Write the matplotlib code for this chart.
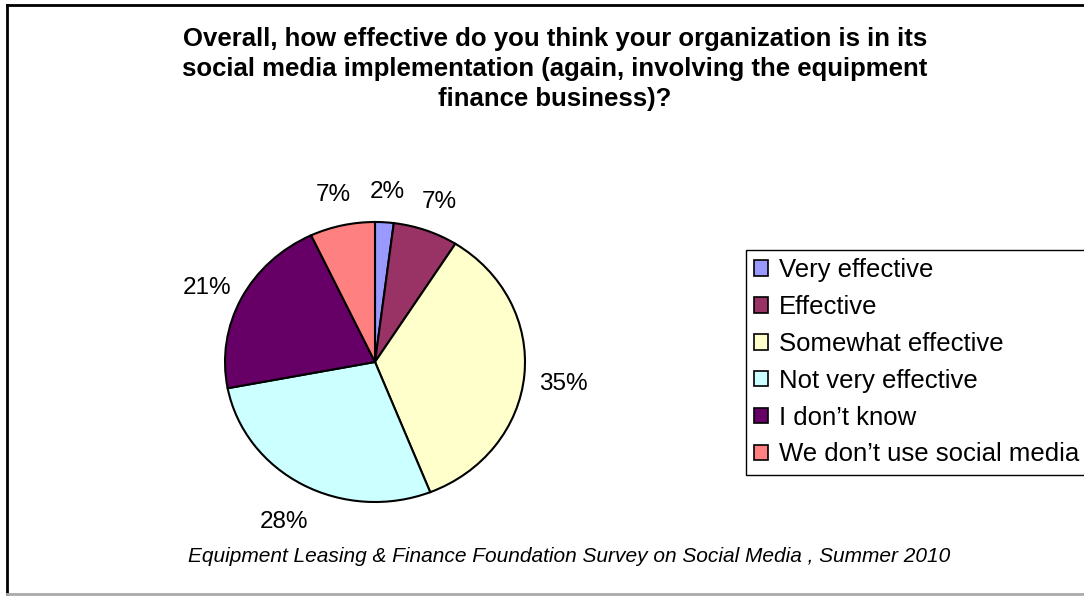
import matplotlib
matplotlib.use('Agg')
import matplotlib.pyplot as plt
from matplotlib.lines import Line2D

plt.rcParams['font.family'] = ['Liberation Sans', 'DejaVu Sans']

labels = ['Very effective', 'Effective', 'Somewhat effective',
          'Not very effective', 'I don\u2019t know', 'We don\u2019t use social media']
values = [2, 7, 35, 28, 21, 7]
colors = ['#9999FF', '#993366', '#FFFFCC', '#CCFFFF', '#660066', '#FF8080']

W, H = 1084, 596
fig = plt.figure(figsize=(W / 100, H / 100), dpi=100, facecolor='white')

# pie axes: slightly wider than tall, like the original sheet export
cx, cy, rx, ry = 375, 362, 150, 140
ax = fig.add_axes([(cx - 1.5 * rx) / W, (H - cy - 1.5 * ry) / H, 3 * rx / W, 3 * ry / H])
wedges, texts, autotexts = ax.pie(values, colors=colors, startangle=90, counterclock=False,
                                  autopct='%1.0f%%', pctdistance=1.26,
                                  wedgeprops=dict(edgecolor='black', linewidth=1.5),
                                  textprops=dict(fontsize=17.5, color='black'))
for t in autotexts:
    x, y = t.get_position()
    t.set_position((x, y - 0.04))
ax.set_aspect('auto')
ax.set_xlim(-1.5, 1.5)
ax.set_ylim(-1.5, 1.5)
ax.axis('off')

fig.text(555 / W, (H - 69) / H,
         'Overall, how effective do you think your organization is in its\n'
         'social media implementation (again, involving the equipment\n'
         'finance business)?',
         ha='center', va='center', fontsize=18.5, fontweight='bold', linespacing=1.32)

leg = fig.legend(wedges, labels, loc='upper left',
                 bbox_to_anchor=(746 / W, (H - 250) / H), fontsize=18.5,
                 frameon=True, fancybox=False, edgecolor='black', framealpha=1,
                 handlelength=0.55, handleheight=0.55, handletextpad=0.4,
                 labelspacing=0.5, borderpad=0.32, borderaxespad=0)
leg.get_frame().set_linewidth(1.0)
for h in leg.legend_handles:
    h.set_linewidth(1.2)

fig.text(569 / W, (H - 557) / H,
         'Equipment Leasing & Finance Foundation Survey on Social Media , Summer 2010',
         ha='center', va='center', fontsize=15, style='italic')

# outer frame: dark top/left, light bottom
fig.add_artist(Line2D([7 / W, 1], [(H - 5) / H, (H - 5) / H], color='black', lw=2))
fig.add_artist(Line2D([7 / W, 7 / W], [(H - 5) / H, 2 / H], color='black', lw=2))
fig.add_artist(Line2D([7 / W, 1], [2 / H, 2 / H], color='#aaaaaa', lw=2))

fig.savefig('out.png', dpi=100, facecolor='white')
